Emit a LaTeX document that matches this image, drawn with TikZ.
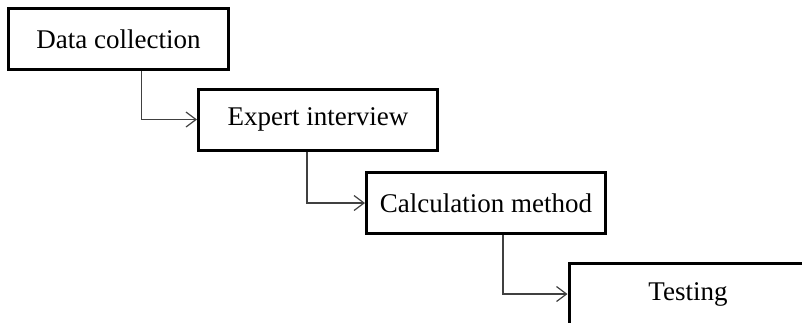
\documentclass[tikz,border=0pt]{standalone}
\usepackage{fontspec}
\setmainfont{Liberation Serif}
\usetikzlibrary{arrows.meta}
\begin{document}
\begin{tikzpicture}[x=1pt,y=-1pt,
  stepbox/.style={draw=black, line width=3pt, fill=white, inner sep=0pt, font=\fontsize{27}{31}\selectfont},
  flow/.style={draw=black!75, line width=1.2pt, -{Straight Barb[length=10pt,width=15pt,line width=1.2pt]}}]
\useasboundingbox (0,0) rectangle (802,322);
\clip (0,0) rectangle (802,322);
\node[stepbox, minimum width=220pt, minimum height=61pt] (a) at (118.5,39) {Data collection};
\node[stepbox, minimum width=239pt, minimum height=61pt] (b) at (318,119.5) {Expert interview};
\node[stepbox, minimum width=239pt, minimum height=61pt] (c) at (486,203) {Calculation method};
\node[stepbox, minimum width=238pt, minimum height=61pt] (d) at (688,294) {Testing};
\draw[flow] ([xshift=134.5pt]a.south west) |- (b.west);
\draw[flow] ([xshift=110pt]b.south west) |- (c.west);
\draw[flow] ([xshift=138pt]c.south west) |- (d.west);
\end{tikzpicture}
\end{document}
